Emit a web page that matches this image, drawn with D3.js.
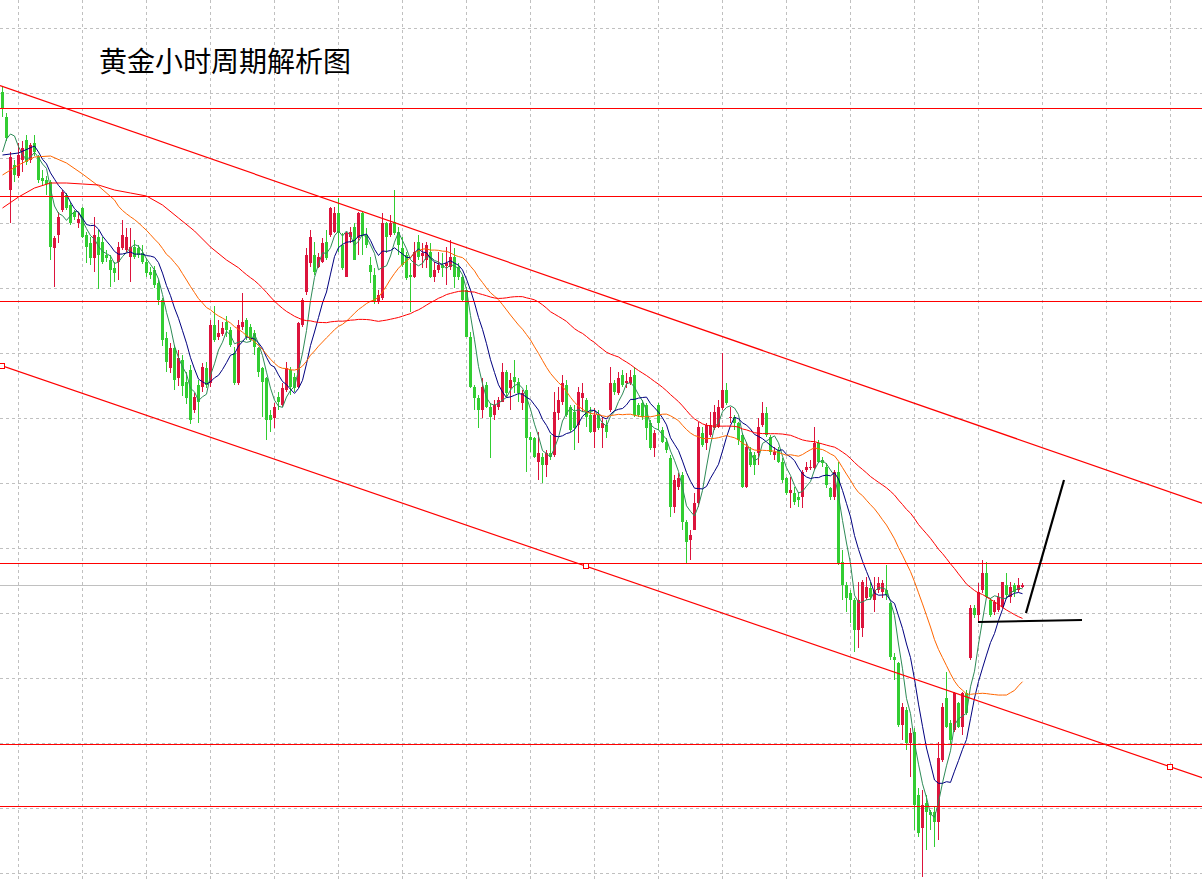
<!DOCTYPE html>
<html><head><meta charset="utf-8">
<script src="https://cdn.jsdelivr.net/npm/d3@7"></script>
<style>html,body{margin:0;padding:0;background:#fff;overflow:hidden}</style>
</head><body>
<svg id="chart" width="1202" height="882"></svg>
<script>
// ---- DATA (hourly gold candles, index 0..255) ----
const title = "黄金小时周期解析图";
const opens = [
2690.8,2688.3,2681.0,2683.5,2682.4,2684.0,2686.0,2684.0,2685.7,2684.3,
2682.2,2682.0,2681.8,2675.2,2676.5,2679.0,2680.5,2679.5,2678.8,2677.7,
2679.2,2676.5,2675.7,2674.2,2676.3,2675.8,2674.5,2674.0,2673.2,2673.8,
2675.2,2675.0,2674.3,2675.3,2675.2,2674.7,2673.8,2672.8,2673.0,2671.7,
2670.0,2666.2,2663.2,2665.2,2662.2,2664.0,2661.8,2663.0,2659.0,2661.5,
2661.3,2663.2,2661.7,2667.5,2666.3,2666.6,2667.8,2667.0,2664.7,2661.7,
2667.3,2668.0,2667.3,2666.7,2665.2,2663.2,2662.2,2658.5,2658.2,2660.3,
2659.5,2661.0,2663.0,2662.3,2661.3,2667.5,2670.8,2673.7,2674.5,2673.3,
2673.8,2675.8,2676.5,2676.8,2678.7,2675.5,2672.3,2676.3,2677.3,2676.2,
2678.7,2676.5,2673.5,2672.5,2669.8,2670.2,2677.7,2676.5,2677.8,2676.8,
2675.2,2674.5,2672.5,2672.3,2675.8,2674.4,2674.0,2674.8,2672.3,2673.0,
2673.5,2673.4,2673.3,2674.3,2673.3,2672.3,2671.0,2666.3,2661.3,2660.2,
2659.0,2661.5,2659.3,2658.5,2659.3,2659.8,2662.8,2661.2,2662.3,2661.8,
2659.7,2661.0,2656.3,2656.2,2653.8,2654.3,2653.5,2654.7,2654.5,2658.7,
2659.8,2661.5,2659.3,2658.8,2657.5,2660.2,2660.0,2658.5,2656.8,2658.5,
2657.2,2657.5,2659.0,2661.7,2660.7,2662.5,2661.7,2661.7,2662.5,2659.5,
2659.7,2659.5,2657.7,2655.2,2659.5,2657.0,2655.8,2654.2,2649.3,2651.3,
2652.5,2647.8,2646.0,2647.0,2649.7,2656.7,2655.7,2656.5,2657.2,2657.3,
2659.2,2661.0,2658.2,2658.3,2657.7,2656.5,2651.3,2654.8,2654.5,2654.7,
2657.5,2658.7,2656.3,2654.5,2655.0,2653.8,2652.2,2650.7,2650.7,2650.3,
2650.3,2653.0,2653.2,2653.2,2655.7,2654.0,2653.3,2651.2,2650.3,2652.8,
2643.8,2641.5,2640.7,2640.0,2637.0,2637.2,2640.2,2641.2,2640.0,2641.0,
2640.8,2641.0,2639.7,2634.3,2633.7,2627.5,2629.0,2625.7,2626.8,2620.5,
2617.2,2619.7,2618.8,2618.8,2617.8,2624.0,2630.2,2627.7,2627.0,2629.7,
2627.3,2630.7,2634.2,2639.2,2638.5,2641.0,2642.7,2640.0,2638.8,2639.0,
2639.3,2641.5,2640.3,2641.5,2641.0,2641.3];
const highs = [
2691.3,2688.7,2684.8,2684.0,2685.7,2685.9,2686.5,2685.7,2686.5,2684.5,
2683.0,2682.4,2682.0,2676.4,2678.8,2681.0,2680.7,2679.8,2679.0,2678.8,
2679.3,2676.8,2676.3,2678.3,2677.0,2676.3,2675.0,2674.5,2673.8,2675.8,
2678.0,2677.2,2677.2,2676.0,2675.5,2675.5,2674.2,2673.3,2673.4,2672.0,
2670.2,2666.8,2665.7,2665.5,2665.0,2664.5,2662.8,2663.5,2660.7,2662.0,
2663.7,2663.8,2668.0,2669.4,2668.0,2667.8,2668.4,2667.3,2665.3,2668.0,
2670.7,2668.2,2667.6,2667.0,2665.3,2663.3,2662.3,2659.0,2659.7,2660.8,
2661.7,2663.8,2663.3,2662.7,2667.8,2670.2,2675.2,2677.0,2675.8,2674.7,
2676.2,2677.0,2679.3,2679.3,2680.2,2676.7,2676.8,2677.3,2677.7,2678.8,
2678.8,2677.2,2674.3,2673.2,2671.0,2678.7,2677.8,2678.5,2681.0,2677.3,
2676.3,2674.8,2673.7,2675.8,2676.5,2675.7,2675.8,2675.7,2673.8,2674.8,
2674.7,2675.3,2676.0,2675.2,2673.7,2672.5,2671.3,2666.8,2661.5,2660.5,
2662.2,2661.8,2659.7,2660.0,2660.3,2663.7,2663.0,2662.7,2664.0,2662.2,
2661.0,2661.5,2656.8,2656.3,2656.8,2654.7,2655.0,2656.5,2660.8,2661.3,
2662.5,2662.0,2659.5,2659.5,2661.3,2661.7,2660.2,2659.3,2659.2,2659.0,
2658.3,2658.0,2663.3,2662.0,2662.8,2663.0,2662.7,2663.0,2663.3,2659.7,
2660.0,2659.7,2658.0,2657.0,2659.7,2657.3,2656.2,2654.5,2652.5,2652.7,
2652.8,2648.0,2647.0,2650.7,2657.8,2657.3,2657.7,2658.8,2659.5,2660.0,
2664.7,2661.7,2659.3,2658.5,2657.8,2656.7,2655.8,2655.3,2654.8,2658.2,
2659.8,2659.3,2656.5,2655.3,2655.3,2654.2,2652.3,2652.3,2651.3,2650.8,
2653.0,2653.8,2654.0,2657.3,2656.0,2654.3,2653.7,2651.3,2653.0,2653.8,
2645.0,2641.8,2641.0,2640.2,2641.8,2642.0,2642.3,2641.8,2642.3,2642.3,
2642.0,2643.5,2639.8,2634.7,2633.8,2629.7,2629.3,2627.2,2627.2,2621.2,
2621.0,2620.5,2619.0,2619.3,2625.8,2629.7,2632.8,2628.0,2630.8,2629.8,
2630.8,2631.0,2639.5,2639.5,2641.7,2644.0,2643.8,2640.2,2640.0,2640.7,
2641.8,2642.7,2641.8,2641.7,2642.2,2641.7];
const lows = [
2688.3,2685.9,2677.7,2681.8,2682.2,2682.8,2683.5,2683.7,2684.4,2681.7,
2681.4,2680.5,2674.0,2671.3,2675.7,2678.8,2679.0,2677.5,2678.0,2677.2,
2676.2,2673.7,2673.5,2672.8,2671.1,2673.6,2673.8,2671.3,2671.8,2672.0,
2675.0,2674.8,2671.8,2674.1,2674.2,2673.6,2672.3,2672.1,2671.2,2669.5,
2665.4,2662.8,2662.7,2661.0,2661.4,2660.4,2659.6,2657.6,2658.7,2657.7,
2660.8,2661.2,2661.3,2665.8,2666.0,2666.4,2666.3,2665.3,2661.5,2661.5,
2667.0,2666.0,2665.8,2664.5,2662.3,2658.3,2656.0,2656.8,2657.2,2659.0,
2659.3,2660.8,2660.5,2660.8,2661.2,2667.3,2670.5,2673.3,2672.5,2673.2,
2673.7,2674.0,2676.3,2676.7,2674.8,2673.0,2672.3,2675.7,2674.0,2674.5,
2674.5,2675.2,2671.7,2669.6,2669.6,2670.0,2674.7,2676.3,2676.5,2674.5,
2673.3,2672.0,2668.8,2672.2,2674.0,2673.2,2673.2,2672.2,2671.8,2672.7,
2672.3,2671.5,2673.0,2671.2,2672.0,2669.8,2666.3,2661.2,2659.0,2657.2,
2658.2,2659.2,2654.2,2658.0,2659.0,2659.8,2660.3,2659.0,2660.7,2659.8,
2659.0,2652.8,2654.8,2654.2,2652.0,2651.7,2652.3,2654.0,2654.3,2658.0,
2659.5,2658.3,2656.8,2655.0,2655.7,2658.8,2657.3,2656.7,2655.2,2657.0,
2655.2,2656.2,2658.8,2660.5,2660.5,2661.3,2661.2,2661.5,2658.3,2658.3,
2658.0,2656.0,2655.0,2654.3,2657.0,2655.7,2654.7,2648.3,2648.7,2651.0,
2647.0,2643.7,2644.0,2647.0,2649.3,2655.3,2655.0,2656.3,2657.0,2657.2,
2659.0,2659.5,2657.7,2657.0,2655.5,2651.2,2651.2,2653.3,2652.5,2653.5,
2657.3,2656.3,2654.5,2654.0,2653.7,2651.7,2650.5,2649.2,2649.5,2649.3,
2649.2,2652.8,2653.0,2653.0,2653.7,2653.3,2651.2,2650.0,2650.0,2643.5,
2640.0,2638.8,2637.7,2634.8,2635.2,2636.3,2640.0,2640.0,2638.8,2640.7,
2640.2,2640.0,2634.0,2632.0,2627.3,2626.0,2625.0,2622.3,2617.0,2616.3,
2612.3,2615.0,2617.0,2615.3,2616.0,2623.8,2627.2,2625.5,2626.8,2627.2,
2626.5,2628.5,2634.0,2638.2,2637.8,2640.7,2640.2,2638.3,2638.5,2638.8,
2639.2,2640.2,2639.7,2640.3,2640.8,2641.2];
const closes = [
2689.2,2686.2,2684.3,2682.5,2684.5,2685.2,2683.8,2685.5,2684.8,2682.0,
2681.9,2681.6,2675.3,2676.2,2678.3,2680.8,2679.2,2677.7,2678.3,2678.1,
2676.3,2675.3,2674.2,2676.5,2674.5,2673.8,2674.2,2673.0,2672.7,2675.3,
2676.5,2676.3,2675.3,2674.3,2674.5,2673.8,2672.7,2672.5,2671.5,2670.0,
2666.0,2663.8,2665.2,2662.0,2664.2,2661.4,2660.2,2658.0,2660.3,2659.8,
2663.3,2661.5,2667.5,2666.0,2666.7,2667.2,2667.0,2665.5,2661.7,2667.5,
2667.8,2666.3,2666.0,2665.3,2662.8,2661.8,2658.0,2658.0,2659.3,2659.8,
2661.2,2663.2,2661.3,2661.2,2667.7,2670.0,2674.5,2676.3,2672.8,2674.3,
2675.7,2674.2,2679.2,2678.7,2676.7,2673.2,2676.7,2676.8,2674.0,2678.7,
2676.5,2675.5,2672.8,2669.8,2670.5,2677.7,2676.3,2677.7,2676.7,2675.5,
2673.5,2672.2,2672.3,2674.8,2674.3,2674.7,2675.5,2672.3,2673.0,2673.5,
2673.2,2673.7,2674.3,2672.3,2672.3,2670.0,2666.3,2661.3,2660.2,2659.0,
2661.3,2659.3,2658.3,2659.5,2660.0,2662.8,2660.7,2662.0,2661.8,2660.7,
2660.7,2656.2,2656.0,2654.3,2654.7,2653.5,2654.7,2654.3,2658.8,2660.0,
2661.7,2658.5,2657.0,2657.2,2660.8,2660.7,2658.3,2656.8,2658.5,2657.2,
2657.7,2656.8,2661.7,2660.8,2662.2,2661.5,2661.9,2662.3,2658.5,2658.5,
2658.3,2657.2,2655.2,2656.7,2657.7,2655.8,2655.0,2649.3,2652.0,2652.2,
2647.8,2645.8,2646.5,2649.7,2657.3,2655.5,2657.5,2657.5,2658.8,2659.3,
2661.0,2659.7,2658.3,2657.7,2656.0,2651.3,2655.3,2653.5,2653.5,2657.3,
2658.7,2656.5,2654.8,2654.8,2653.8,2652.0,2650.7,2651.0,2649.8,2650.0,
2652.8,2653.3,2653.3,2655.7,2653.8,2653.7,2651.5,2650.3,2652.8,2643.7,
2641.5,2640.2,2640.0,2637.0,2640.0,2641.8,2641.3,2640.3,2641.0,2641.7,
2641.7,2640.5,2634.3,2634.0,2627.5,2629.3,2625.7,2626.7,2619.5,2616.7,
2619.5,2618.8,2618.5,2617.8,2624.2,2629.3,2627.3,2626.0,2630.7,2627.3,
2630.7,2628.7,2639.2,2638.5,2640.8,2642.7,2640.3,2638.5,2639.8,2640.3,
2641.8,2640.5,2641.3,2640.8,2641.5,2641.5];

// moving-average periods and their values before a full window exists
const maPeriods = [5, 10, 30, 60];
const maColors = ["#2e8b57", "#00007f", "#ff6600", "#ff0000"];
const maLeadIdx = [[0,1,2,3], [0,4,8], [0,4,8,12,16,20,24,28], [0,4,8,12,16,20,24,28,32,36,40,44,48,52,56]];
const maLeadVal = [
  [2684.8,2686.1,2686.6,2686.4],
  [2684.5,2684.7,2685.4],
  [2682.5,2683.5,2684.3,2684.4,2683.7,2682.6,2681.4,2680.0],
  [2679.2,2680.3,2681.2,2681.7,2681.7,2681.6,2681.5,2681.0,2680.7,2680.4,2679.5,2678.2,2676.9,2675.3,2674.0]
];

// horizontal levels (red) and bid line
const levels = [2689.2, 2680.4, 2669.9, 2643.7, 2625.6, 2619.4];
const bidPrice = 2641.5;
// channel lines: anchor points [index, price]
const upperChannel = [[0, 2691.38], [300, 2649.68]];
const lowerChannel = [[0, 2663.43], [292, 2623.33]];
const lowerMarkers = [0, 146, 292];
// hand-drawn black trend lines [index, price]
const drawnLines = [
  [[244, 2637.8], [270, 2638.0]],
  [[256, 2638.7], [265.5, 2652.0]]
];
// grid
const gridIdxStart = 4, gridIdxStep = 16;
const gridPriceTop = 2697.2, gridPriceStep = 6.5;

// ---- DRAW ----
const W = 1202, H = 882;
const svg = d3.select("#chart");
const xs = d3.scaleLinear().domain([0, 1]).range([2, 6]);
const ys = d3.scaleLinear().domain([2611.8, 2700]).range([H, 0]);

svg.append("rect").attr("width", W).attr("height", H).attr("fill", "#fff");

// grid
const g = svg.append("g").attr("shape-rendering", "crispEdges")
  .attr("stroke", "#c0c0c0").attr("stroke-dasharray", "3,3").attr("stroke-width", 1);
d3.range(gridIdxStart, 300, gridIdxStep).forEach(i => {
  const x = Math.round(xs(i)) + 0.5;
  g.append("line").attr("x1", x).attr("x2", x).attr("y1", 0).attr("y2", H);
});
d3.range(0, 14).forEach(k => {
  const y = Math.round(ys(gridPriceTop - gridPriceStep * k)) + 0.5;
  g.append("line").attr("x1", 0).attr("x2", W).attr("y1", y).attr("y2", y);
});

// bid line
const by = Math.round(ys(bidPrice)) + 0.5;
svg.append("line").attr("x1", 0).attr("x2", W).attr("y1", by).attr("y2", by)
  .attr("stroke", "#c0c0c0").attr("stroke-width", 1).attr("shape-rendering", "crispEdges");

// candles
const data = closes.map((c, i) => ({i, o: opens[i], h: highs[i], l: lows[i], c}));
const cg = svg.append("g").attr("shape-rendering", "crispEdges");
const up = "#dc143c", down = "#32cd32";
data.forEach(d => {
  const col = d.c >= d.o ? up : down;
  const cx = xs(d.i);
  cg.append("line").attr("x1", cx + 0.5).attr("x2", cx + 0.5)
    .attr("y1", ys(d.h)).attr("y2", ys(d.l)).attr("stroke", col).attr("stroke-width", 1);
  const y0 = ys(Math.max(d.o, d.c)), y1 = ys(Math.min(d.o, d.c));
  cg.append("rect").attr("x", cx - 1).attr("width", 3)
    .attr("y", y0).attr("height", Math.max(1, y1 - y0)).attr("fill", col);
});

// moving averages
maPeriods.forEach((p, k) => {
  const pts = maLeadIdx[k].map((ix, j) => [ix, maLeadVal[k][j]]);
  for (let i = p - 1; i < closes.length; i++) {
    pts.push([i, d3.mean(closes.slice(i - p + 1, i + 1))]);
  }
  svg.append("path").datum(pts)
    .attr("d", d3.line().x(d => xs(d[0]) + 0.5).y(d => ys(d[1])))
    .attr("fill", "none").attr("stroke", maColors[k]).attr("stroke-width", 1);
});

// horizontal levels
levels.forEach(p => {
  const y = Math.round(ys(p)) + 0.5;
  svg.append("line").attr("x1", 0).attr("x2", W).attr("y1", y).attr("y2", y)
    .attr("stroke", "#ff0000").attr("stroke-width", 1).attr("shape-rendering", "crispEdges");
});

// channels
function lineAt(a, idx) {
  const [[i0, p0], [i1, p1]] = a;
  return p0 + (p1 - p0) * (idx - i0) / (i1 - i0);
}
[upperChannel, lowerChannel].forEach(ch => {
  const iL = xs.invert(0), iR = xs.invert(W);
  svg.append("line").attr("x1", 0).attr("x2", W)
    .attr("y1", ys(lineAt(ch, iL))).attr("y2", ys(lineAt(ch, iR)))
    .attr("stroke", "#ff0000").attr("stroke-width", 1.2);
});
lowerMarkers.forEach(ix => {
  const x = Math.round(xs(ix)), y = Math.round(ys(lineAt(lowerChannel, ix)));
  svg.append("rect").attr("x", x - 2.5).attr("y", y - 2.5).attr("width", 5).attr("height", 5)
    .attr("fill", "#fff").attr("stroke", "#ff0000").attr("stroke-width", 1);
});

// drawn black lines
drawnLines.forEach(l => {
  svg.append("line")
    .attr("x1", xs(l[0][0])).attr("y1", ys(l[0][1]))
    .attr("x2", xs(l[1][0])).attr("y2", ys(l[1][1]))
    .attr("stroke", "#000").attr("stroke-width", 2.2);
});

// title
svg.append("text").attr("x", 99).attr("y", 72)
  .attr("font-family", "'Noto Sans CJK SC', 'Noto Sans', sans-serif")
  .attr("font-size", 28).attr("fill", "#000").text(title);
</script>
</body></html>
